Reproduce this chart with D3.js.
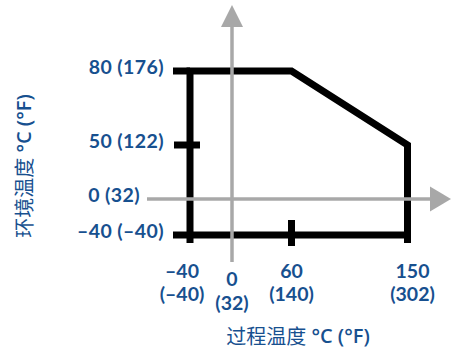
<!DOCTYPE html>
<html>
<head>
<meta charset="utf-8">
<script src="https://cdn.jsdelivr.net/npm/d3@7/dist/d3.min.js"></script>
<style>
  html, body { margin: 0; padding: 0; background: #fff; }
  svg { display: block; }
  text { font-family: "Open Sans", "Noto Sans", sans-serif; }
  g.tick text { font-family: Lato, "Open Sans", sans-serif; }
</style>
</head>
<body>
<div id="chart"></div>
<script>
// ---- data ----
const processTicksC = [-40, 0, 60, 150];
const processTicksF = ["(–40)", "(32)", "(140)", "(302)"];
const processTickLabelsC = ["–40", "0", "60", "150"];
const ambientTicksC = [-40, 0, 50, 80];
const ambientTickLabels = ["–40 (–40)", "0 (32)", "50 (122)", "80 (176)"];
// operating envelope (process temp °C, ambient temp °C)
const envelopeProcess = [-40, -40, 60, 150, 150];
const envelopeAmbient = [-40, 80, 80, 50, -40];
const blackTicksProcess = [60];
const blackTicksAmbient = [50];
const xTitleCJK = "过程温度";
const yTitleCJK = "环境温度";
const unitText = " °C (°F)";

// ---- layout ----
const W = 451, H = 348;
const blue = "#17508f";
const gray = "#a8a8a8";
const fs = 20;
const tfs = 19.5;

const svg = d3.select("#chart").append("svg").attr("width", W).attr("height", H);

// piecewise (not-to-scale) diagram scales
const x = d3.scaleLinear().domain(processTicksC).range([190, 232, 291.5, 407.5]);
const y = d3.scaleLinear().domain(ambientTicksC).range([235, 199, 145, 71]);

const lw = 7;
const xMin = d3.min(envelopeProcess), xMax = d3.max(envelopeProcess);
const yMin = d3.min(envelopeAmbient), yMax = d3.max(envelopeAmbient);

// envelope
const pts = envelopeProcess.map((p, i) => [x(p), y(envelopeAmbient[i])]);
pts.push(pts[0]);
svg.append("path")
  .attr("d", d3.line()(pts))
  .attr("fill", "none").attr("stroke", "#000").attr("stroke-width", lw)
  .attr("stroke-linejoin", "miter");

const blk = svg.append("g").attr("stroke", "#000").attr("stroke-width", lw).attr("stroke-linecap", "butt");
// overhangs
[yMin, yMax].forEach(v => blk.append("line")
  .attr("x1", x(xMin) - 17).attr("x2", x(xMin)).attr("y1", y(v)).attr("y2", y(v)));
[xMin, xMax].forEach(v => blk.append("line")
  .attr("x1", x(v)).attr("x2", x(v)).attr("y1", y(yMin)).attr("y2", y(yMin) + 8));
// tick marks
blackTicksAmbient.forEach(v => blk.append("line")
  .attr("x1", x(xMin) - 16).attr("x2", x(xMin) + 10).attr("y1", y(v)).attr("y2", y(v)));
blackTicksProcess.forEach(v => blk.append("line")
  .attr("x1", x(v)).attr("x2", x(v)).attr("y1", y(yMin) - 15).attr("y2", y(yMin) + 11));

// gray axes with arrows
const axStartX = 147, axEndX = 432, arrowTipX = 451;
const axStartY = 262, axEndY = 26, arrowTipY = 5;
const ga = svg.append("g");
ga.append("line").attr("x1", axStartX).attr("x2", axEndX).attr("y1", y(0)).attr("y2", y(0))
  .attr("stroke", gray).attr("stroke-width", 3.5);
ga.append("path").attr("fill", gray)
  .attr("d", `M${arrowTipX},${y(0)} L${axEndX - 2},${y(0) - 12.5} L${axEndX - 2},${y(0) + 12.5} Z`);
ga.append("line").attr("x1", x(0)).attr("x2", x(0)).attr("y1", axStartY).attr("y2", axEndY)
  .attr("stroke", gray).attr("stroke-width", 3.5);
ga.append("path").attr("fill", gray)
  .attr("d", `M${x(0)},${arrowTipY} L${x(0) - 11},${axEndY + 1} L${x(0) + 11},${axEndY + 1} Z`);

// ambient tick labels
svg.append("g").attr("class", "tick").selectAll("text").data(ambientTicksC).join("text")
  .attr("x", d => d === 0 ? axStartX - 7 : 164)
  .attr("y", d => y(d) - 4.5)
  .attr("text-anchor", "end").attr("dominant-baseline", "central")
  .attr("font-size", tfs).attr("font-weight", 700).attr("fill", blue)
  .attr("letter-spacing", 0.4)
  .text((d, i) => ambientTickLabels[i]);

// process tick labels (two lines)
const dxFor = d => d === xMin ? -8 : d === xMax ? 5 : 0;
const dyFor = d => d === 0 ? 8.5 : 0;
const xl = svg.append("g").attr("class", "tick").attr("font-size", tfs).attr("font-weight", 700).attr("fill", blue)
  .attr("text-anchor", "middle");
processTicksC.forEach((d, i) => {
  xl.append("text").attr("x", x(d) + dxFor(d)).attr("y", 270 + dyFor(d))
    .attr("dominant-baseline", "central").text(processTickLabelsC[i]);
  xl.append("text").attr("x", x(d) + dxFor(d)).attr("y", 293.5 + dyFor(d))
    .attr("dominant-baseline", "central").text(processTicksF[i]);
});

// axis titles
function title(g, cjk) {
  g.append("tspan").attr("font-family", "'Noto Sans CJK SC', sans-serif").attr("font-weight", 400).text(cjk);
  g.append("tspan").attr("font-weight", 600).text(unitText);
}
const xt = svg.append("text").attr("x", 298).attr("y", 335)
  .attr("text-anchor", "middle").attr("dominant-baseline", "central")
  .attr("font-size", fs).attr("fill", blue);
title(xt, xTitleCJK);
const yt = svg.append("text").attr("transform", "translate(23,166) rotate(-90)")
  .attr("text-anchor", "middle").attr("dominant-baseline", "central")
  .attr("font-size", fs).attr("fill", blue);
title(yt, yTitleCJK);
</script>
</body>
</html>
